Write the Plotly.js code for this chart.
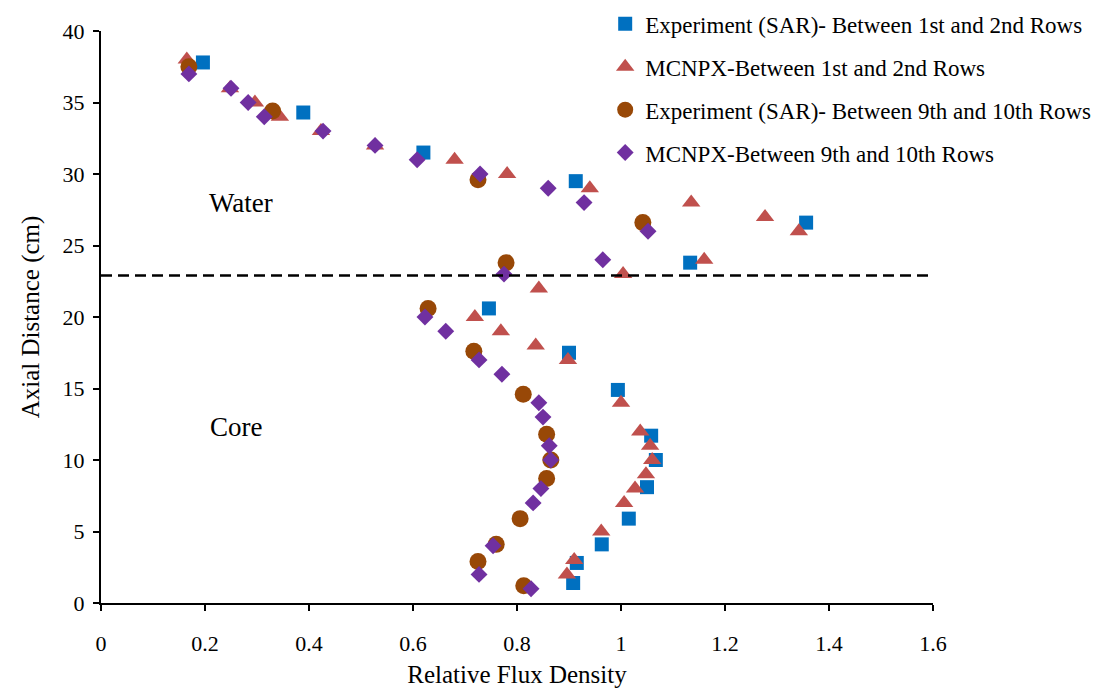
<!DOCTYPE html>
<html>
<head>
<meta charset="utf-8">
<script src="https://cdn.plot.ly/plotly-3.0.1.min.js"></script>
<style>html,body{margin:0;padding:0;background:#fff;}#chart{width:1112px;height:689px;}</style>
</head>
<body>
<div id="chart"></div>
<script>
// Experiment (SAR) - Between 1st and 2nd Rows
const expA_x = [0.196, 0.389, 0.62, 0.913, 1.356, 1.133, 0.746, 0.9, 0.994, 1.058, 1.067, 1.05, 1.015, 0.963, 0.915, 0.908];
const expA_y = [37.8, 34.3, 31.5, 29.5, 26.6, 23.8, 20.6, 17.5, 14.9, 11.7, 10.0, 8.1, 5.9, 4.1, 2.8, 1.4];
// MCNPX - Between 1st and 2nd Rows
const mcA_x = [0.165, 0.248, 0.296, 0.344, 0.423, 0.527, 0.68, 0.781, 0.94, 1.135, 1.277, 1.342, 1.16, 1.004, 0.842, 0.719, 0.769, 0.836, 0.898, 1.0, 1.037, 1.056, 1.06, 1.048, 1.027, 1.006, 0.962, 0.91, 0.896];
const mcA_y = [38, 36, 35, 34, 33, 32, 31, 30, 29, 28, 27, 26, 24, 23, 22, 20, 19, 18, 17, 14, 12, 11, 10, 9, 8, 7, 5, 3, 2];
// Experiment (SAR) - Between 9th and 10th Rows
const expB_x = [0.169, 0.33, 0.725, 1.042, 0.779, 0.629, 0.717, 0.812, 0.857, 0.865, 0.857, 0.806, 0.76, 0.725, 0.813];
const expB_y = [37.5, 34.4, 29.6, 26.6, 23.8, 20.6, 17.6, 14.6, 11.8, 10.0, 8.7, 5.9, 4.1, 2.9, 1.2];
// MCNPX - Between 9th and 10th Rows
const mcB_x = [0.169, 0.25, 0.283, 0.314, 0.427, 0.527, 0.608, 0.729, 0.86, 0.929, 1.052, 0.965, 0.775, 0.623, 0.663, 0.727, 0.771, 0.842, 0.85, 0.862, 0.865, 0.846, 0.831, 0.754, 0.727, 0.827];
const mcB_y = [37, 36, 35, 34, 33, 32, 31, 30, 29, 28, 26, 24, 23, 20, 19, 17, 16, 14, 13, 11, 10, 8, 7, 4, 2, 1];

const seriesNames = [
  "Experiment (SAR)- Between 1st and 2nd Rows",
  "MCNPX-Between 1st and 2nd Rows",
  "Experiment (SAR)- Between 9th and 10th Rows",
  "MCNPX-Between 9th and 10th Rows"
];
const boundaryY = 22.9;
const regionLabels = [{text: "Water", x: 0.27, y: 28}, {text: "Core", x: 0.26, y: 12.3}];

const FONT = "Liberation Serif, Times New Roman, serif";

const traces = [
  {x: expA_x, y: expA_y, name: seriesNames[0], legendgroup: "a", mode: "markers", type: "scatter",
   marker: {symbol: "square", size: 14, color: "#0070C0"}},
  {x: mcA_x, y: mcA_y, name: seriesNames[1], legendgroup: "b", mode: "markers", type: "scatter",
   marker: {symbol: "triangle-up", size: 16, color: "#C0504D"}},
  {x: expB_x, y: expB_y, name: seriesNames[2], legendgroup: "c", mode: "markers", type: "scatter",
   marker: {symbol: "circle", size: 17, color: "#984807"}},
  {x: mcB_x, y: mcB_y, name: seriesNames[3], legendgroup: "d", mode: "markers", type: "scatter",
   marker: {symbol: "diamond", size: 13, color: "#7030A0"}}
];

const layout = {
  width: 1112, height: 689,
  margin: {l: 101, r: 179, t: 31, b: 86, autoexpand: false},
  paper_bgcolor: "#fff", plot_bgcolor: "#fff",
  font: {family: FONT, size: 22, color: "#000"},
  showlegend: true,
  legend: {x: 0.606, xanchor: "left", y: 1.05, yanchor: "top", bgcolor: "rgba(0,0,0,0)",
           font: {family: FONT, size: 23, color: "#000"}, traceorder: "grouped", tracegroupgap: 10,
           itemwidth: 30},
  xaxis: {range: [0, 1.6], dtick: 0.2, tick0: 0, showgrid: false, zeroline: false,
          showline: true, linecolor: "#000", linewidth: 2, ticks: "outside", ticklen: 6, tickwidth: 2, tickcolor: "#000",
          tickfont: {family: FONT, size: 22}, ticklabelstandoff: 14,
          title: {text: "Relative Flux Density", font: {family: FONT, size: 25}, standoff: 10}},
  yaxis: {range: [0, 40], dtick: 5, tick0: 0, showgrid: false, zeroline: false,
          showline: true, linecolor: "#000", linewidth: 2, ticks: "outside", ticklen: 6, tickwidth: 2, tickcolor: "#000",
          tickfont: {family: FONT, size: 22}, ticklabelstandoff: 4,
          title: {text: "Axial Distance (cm)", font: {family: FONT, size: 25}, standoff: 16}},
  shapes: [{type: "line", xref: "x", yref: "y", x0: 0, x1: 1.6, y0: boundaryY, y1: boundaryY,
            line: {color: "#000", width: 2.5, dash: "11px,6px"}}],
  annotations: regionLabels.map(r => ({text: r.text, x: r.x, y: r.y, xref: "x", yref: "y", showarrow: false,
            font: {family: FONT, size: 27, color: "#000"}}))
};

Plotly.newPlot("chart", traces, layout, {displayModeBar: false, staticPlot: true});
</script>
</body>
</html>
